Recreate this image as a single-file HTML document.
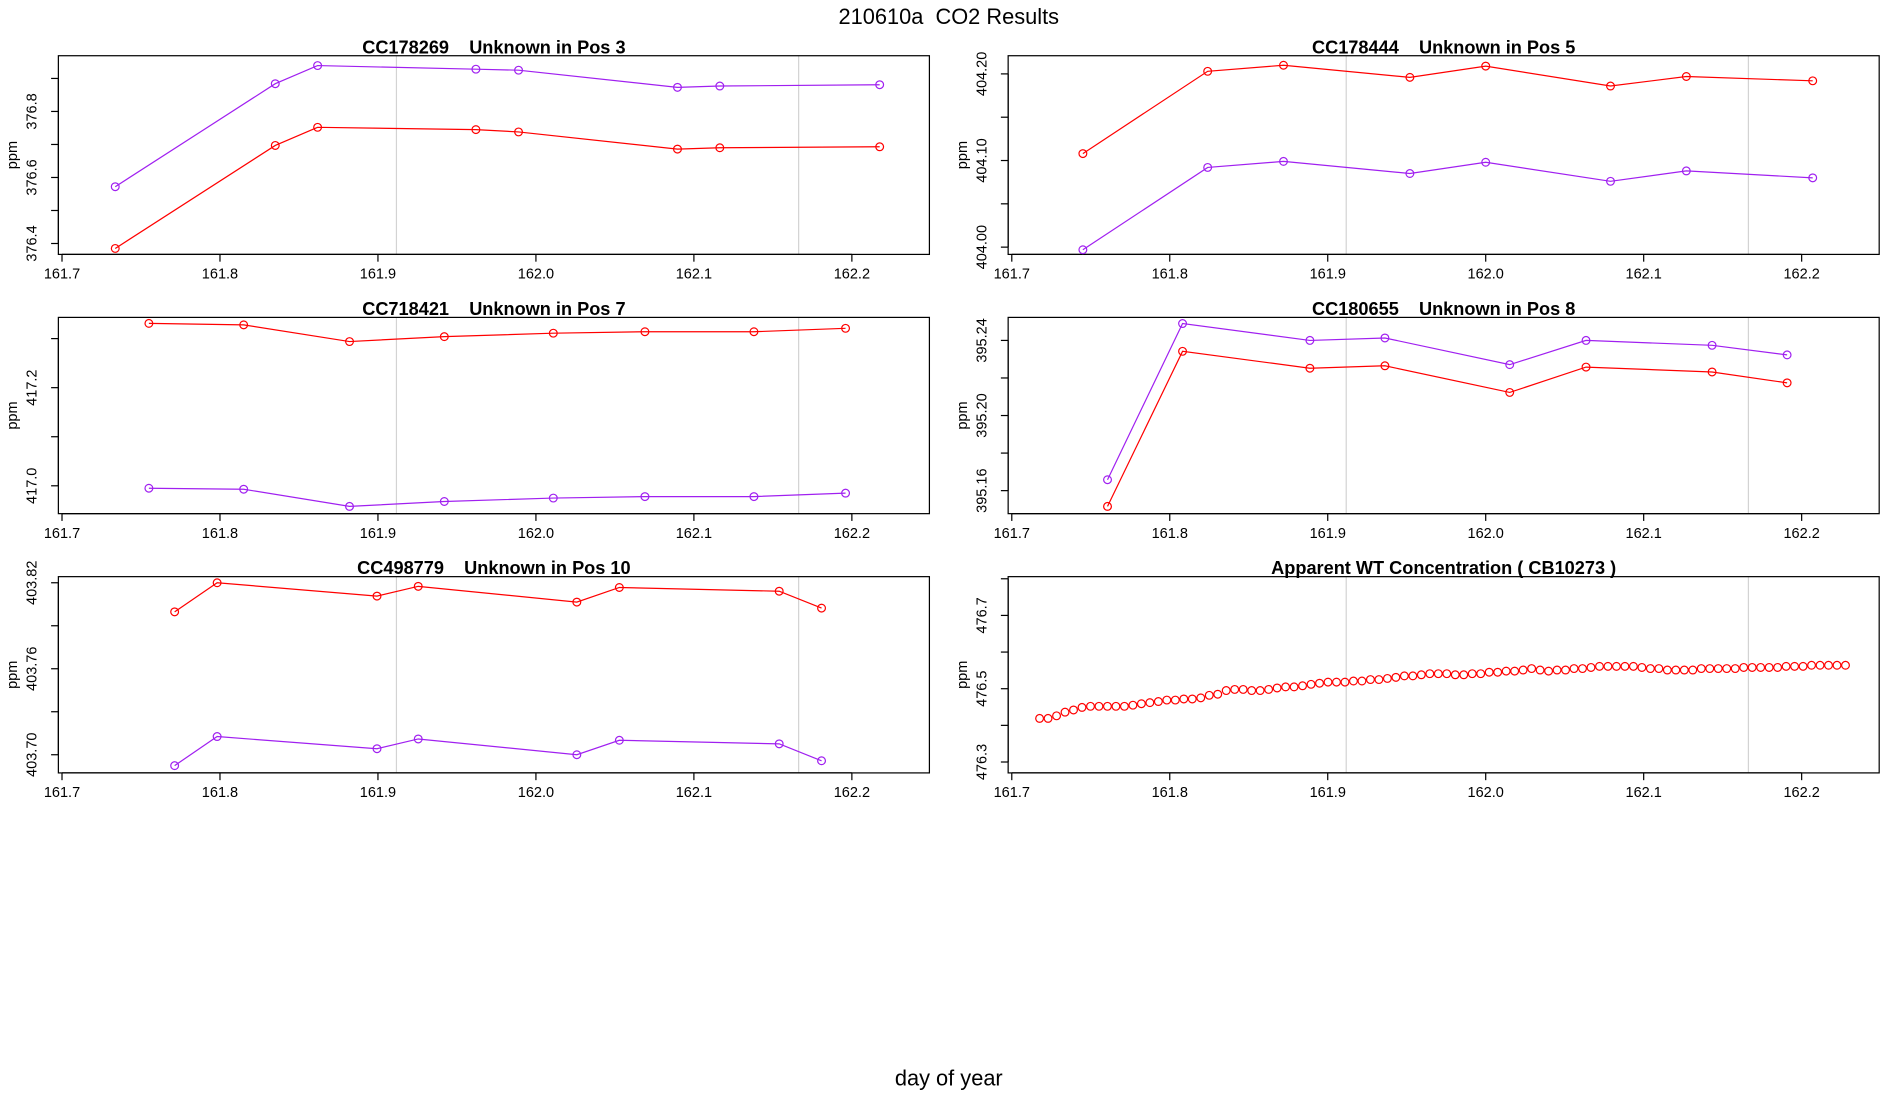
<!DOCTYPE html>
<html><head><meta charset="utf-8"><style>
html,body{margin:0;padding:0;background:#fff;}
svg{display:block;font-family:"Liberation Sans",sans-serif;}
svg text{white-space:pre;}
</style></head><body>
<svg id="chart" width="1900" height="1100" viewBox="0 0 1568 908" xmlns="http://www.w3.org/2000/svg" xml:space="preserve">
<text x="783" y="20" font-size="18" text-anchor="middle">210610a  CO2 Results</text>
<text x="783" y="896" font-size="18" text-anchor="middle">day of year</text>
</svg>
<script>
// ---- data ----
const p1Days = [161.7337,161.835,161.8618,161.962,161.989,162.0896,162.1164,162.2176];
const p1Red = [376.385,376.697,376.752,376.745,376.738,376.686,376.690,376.693];
const p1Purple = [376.572,376.884,376.939,376.928,376.925,376.873,376.877,376.881];
const p2Days = [161.745,161.824,161.872,161.952,162.000,162.079,162.127,162.207];
const p2Red = [404.108,404.203,404.210,404.196,404.209,404.186,404.197,404.192];
const p2Purple = [403.997,404.092,404.099,404.085,404.098,404.076,404.088,404.080];
const p3Days = [161.755,161.815,161.882,161.942,162.011,162.069,162.138,162.196];
const p3Red = [417.331,417.328,417.294,417.304,417.311,417.314,417.314,417.321];
const p3Purple = [416.995,416.993,416.958,416.968,416.975,416.978,416.978,416.985];
const p4Days = [161.7606,161.8081,161.8887,161.9362,162.0152,162.0635,162.1433,162.1908];
const p4Red = [395.1516,395.2342,395.2252,395.2265,395.2123,395.2258,395.2232,395.2174];
const p4Purple = [395.1658,395.2490,395.2400,395.2413,395.2271,395.2400,395.2374,395.2323];
const p5Days = [161.7713,161.7982,161.8994,161.9255,162.0259,162.0528,162.1540,162.1808];
const p5Red = [403.7997,403.8200,403.8107,403.8175,403.8065,403.8167,403.8141,403.8023];
const p5Purple = [403.6924,403.7127,403.7042,403.7110,403.7000,403.7101,403.7076,403.6958];
const p6StartDay = 161.7176;
const p6StepDay = 0.00537;
const p6Values = [476.419,476.419,476.426,476.436,476.442,476.449,476.452,476.452,476.452,476.452,476.452,476.455,476.459,476.462,476.465,476.469,476.469,476.472,476.472,476.475,476.482,476.485,476.495,476.498,476.498,476.495,476.495,476.498,476.502,476.505,476.505,476.508,476.512,476.515,476.518,476.518,476.518,476.521,476.521,476.525,476.525,476.528,476.531,476.535,476.535,476.538,476.541,476.541,476.541,476.538,476.538,476.541,476.541,476.545,476.545,476.548,476.548,476.551,476.555,476.551,476.548,476.551,476.551,476.555,476.555,476.558,476.561,476.561,476.561,476.561,476.561,476.558,476.555,476.555,476.551,476.551,476.551,476.551,476.555,476.555,476.555,476.555,476.555,476.558,476.558,476.558,476.558,476.558,476.561,476.561,476.561,476.564,476.564,476.564,476.564,476.564];
const xTicks = [161.7,161.8,161.9,162.0,162.1,162.2];
const xTickLabels = ["161.7","161.8","161.9","162.0","162.1","162.2"];
const refLines = [161.9117,162.1663];

const svg = document.getElementById('chart');
const NS = 'http://www.w3.org/2000/svg';
function mk(tag, attrs, parent){const e=document.createElementNS(NS,tag);for(const k in attrs)e.setAttribute(k,attrs[k]);(parent||svg).appendChild(e);return e;}

function panel(cfg){
  const g = mk('g',{});
  
  
  const X = d => cfg.x0 + (d-161.7)*1304;
  const Y = v => cfg.yRef + (cfg.vRef - v)*cfg.pxPerUnit;
  refLines.forEach(d=>{const l=mk('line',{x1:X(d),x2:X(d),y1:cfg.top,y2:cfg.bottom,stroke:'#d3d3d3','stroke-width':1},g);
    
    });
  const box=mk('rect',{x:cfg.left,y:cfg.top,width:cfg.right-cfg.left,height:cfg.bottom-cfg.top,fill:'none',stroke:'#000','stroke-width':1},g);
  
  
  const t=mk('text',{x:(cfg.left+cfg.right)/2,y:cfg.top-2,'font-size':15,'font-weight':'bold','text-anchor':'middle'},g);
  t.textContent=cfg.title;
  
  
  const ax=mk('g',{},g);
  
  
  mk('line',{x1:X(xTicks[0]),x2:X(xTicks[xTicks.length-1]),y1:cfg.bottom,y2:cfg.bottom,stroke:'#000'},ax);
  xTicks.forEach((d,i)=>{mk('line',{x1:X(d),x2:X(d),y1:cfg.bottom,y2:cfg.bottom+6,stroke:'#000'},ax);
    const tl=mk('text',{x:X(d),y:cfg.bottom+20,'font-size':12,'text-anchor':'middle'},ax);tl.textContent=xTickLabels[i];
    
    });
  const ay=mk('g',{},g);
  
  
  const yt=cfg.yTicks;
  mk('line',{x1:cfg.left,x2:cfg.left,y1:Y(yt[0]),y2:Y(yt[yt.length-1]),stroke:'#000'},ay);
  yt.forEach((v,i)=>{mk('line',{x1:cfg.left-6,x2:cfg.left,y1:Y(v),y2:Y(v),stroke:'#000'},ay);
    if(cfg.yLabels[i]){const tl=mk('text',{x:0,y:0,'font-size':12,'text-anchor':'middle',transform:`translate(${cfg.left-18},${Y(v)}) rotate(-90)`},ay);tl.textContent=cfg.yLabels[i];
      
      }});
  const yl=mk('text',{x:0,y:0,'font-size':12,'text-anchor':'middle',transform:`translate(${cfg.left-34},${(cfg.top+cfg.bottom)/2}) rotate(-90)`},ay);
  yl.textContent='ppm';
  
  
  cfg.series.forEach(s=>{
    const sg=mk('g',{},g);
    
    
    if(s.line){mk('polyline',{points:s.days.map((d,i)=>X(d)+','+Y(s.vals[i])).join(' '),fill:'none',stroke:s.color,'stroke-width':1},sg);}
    s.days.forEach((d,i)=>{const c=mk('circle',{cx:X(d),cy:Y(s.vals[i]),r:3.2,fill:'none',stroke:s.color,'stroke-width':1},sg);
      
      });
  });
}
const RED='#ff0000', PUR='#a020f0';
const L={left:48,right:767,x0:51}, R={left:832,right:1551,x0:835};
const r1={top:46,bottom:210}, r2={top:262,bottom:424}, r3={top:476,bottom:638};
panel({name:'panel-cc178269',title:'CC178269    Unknown in Pos 3',...L,...r1,yRef:201,vRef:376.4,pxPerUnit:272.5,
  yTicks:[376.4,376.5,376.6,376.7,376.8,376.9],yLabels:['376.4','','376.6','','376.8',''],
  series:[{name:'red-series',days:p1Days,vals:p1Red,color:RED,line:true},{name:'purple-series',days:p1Days,vals:p1Purple,color:PUR,line:true}]});
panel({name:'panel-cc178444',title:'CC178444    Unknown in Pos 5',...R,...r1,yRef:204,vRef:404.00,pxPerUnit:715,
  yTicks:[404.00,404.05,404.10,404.15,404.20],yLabels:['404.00','','404.10','','404.20'],
  series:[{name:'red-series',days:p2Days,vals:p2Red,color:RED,line:true},{name:'purple-series',days:p2Days,vals:p2Purple,color:PUR,line:true}]});
panel({name:'panel-cc718421',title:'CC718421    Unknown in Pos 7',...L,...r2,yRef:401,vRef:417.0,pxPerUnit:405,
  yTicks:[417.0,417.1,417.2,417.3],yLabels:['417.0','','417.2',''],
  series:[{name:'red-series',days:p3Days,vals:p3Red,color:RED,line:true},{name:'purple-series',days:p3Days,vals:p3Purple,color:PUR,line:true}]});
panel({name:'panel-cc180655',title:'CC180655    Unknown in Pos 8',...R,...r2,yRef:405,vRef:395.16,pxPerUnit:1550,
  yTicks:[395.16,395.18,395.20,395.22,395.24],yLabels:['395.16','','395.20','','395.24'],
  series:[{name:'red-series',days:p4Days,vals:p4Red,color:RED,line:true},{name:'purple-series',days:p4Days,vals:p4Purple,color:PUR,line:true}]});
panel({name:'panel-cc498779',title:'CC498779    Unknown in Pos 10',...L,...r3,yRef:623,vRef:403.70,pxPerUnit:1183,
  yTicks:[403.70,403.73,403.76,403.79,403.82],yLabels:['403.70','','403.76','','403.82'],
  series:[{name:'red-series',days:p5Days,vals:p5Red,color:RED,line:true},{name:'purple-series',days:p5Days,vals:p5Purple,color:PUR,line:true}]});
const p6Days = p6Values.map((v,i)=>p6StartDay+i*p6StepDay);
panel({name:'panel-apparent-wt',title:'Apparent WT Concentration ( CB10273 )',...R,...r3,yRef:629,vRef:476.3,pxPerUnit:302.5,
  yTicks:[476.3,476.4,476.5,476.6,476.7,476.8],yLabels:['476.3','','476.5','','476.7',''],
  series:[{name:'wt-concentration-series',days:p6Days,vals:p6Values,color:RED,line:false}]});
</script>
</body></html>
